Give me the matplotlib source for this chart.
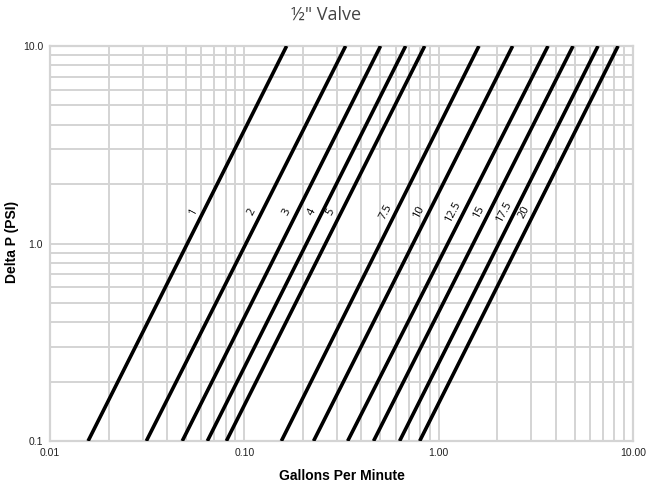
import numpy as np
import matplotlib.pyplot as plt
from matplotlib.ticker import FixedLocator, FixedFormatter, LogLocator, NullFormatter
import matplotlib.transforms as mtransforms

# Line labels and flow (GPM) read at both ends of each line
labels = ["1", "2", "3", "4", "5", "7.5", "10", "12.5", "15", "17.5", "20"]
gpm_at_low = [0.0157, 0.0313, 0.0479, 0.0645, 0.0808, 0.155, 0.227, 0.340, 0.462, 0.629, 0.798]
gpm_at_high = [0.165, 0.332, 0.502, 0.676, 0.847, 1.61, 2.40, 3.65, 4.91, 6.60, 8.37]
dp_low = 0.1
dp_high = 10.0

x_ticks = [0.01, 0.1, 1.0, 10.0]
x_tick_labels = ["0.01", "0.10", "1.00", "10.00"]
y_ticks = [0.1, 1.0, 10.0]
y_tick_labels = ["0.1", "1.0", "10.0"]

label_dp = 1.40  # height where line labels sit

fig = plt.figure(figsize=(6.52, 4.84), dpi=100)
ax = fig.add_axes([0.0767, 0.0888, 0.8943, 0.8162])

grid_color = "#d4d4d4"
ax.set_xscale("log")
ax.set_yscale("log")
ax.set_xlim(0.01, 10)
ax.set_ylim(0.1, 10)

for lo, hi, lab in zip(gpm_at_low, gpm_at_high, labels):
    ax.plot([lo, hi], [dp_low, dp_high], color="black", lw=2.6, solid_capstyle="butt", zorder=3)
    # put the label just left of the line at label_dp
    t = (np.log10(label_dp) - np.log10(dp_low)) / (np.log10(dp_high) - np.log10(dp_low))
    xl = 10 ** (np.log10(lo) + t * (np.log10(hi) - np.log10(lo)))
    offset = mtransforms.offset_copy(ax.transData, fig=fig, x=-6.5, y=2, units="points")
    ax.text(xl, label_dp, lab, rotation=62, ha="center", va="center",
            fontsize=8, color="black", family="Open Sans", transform=offset, zorder=4)

ax.xaxis.set_major_locator(FixedLocator(x_ticks))
ax.xaxis.set_major_formatter(FixedFormatter(x_tick_labels))
ax.yaxis.set_major_locator(FixedLocator(y_ticks))
ax.yaxis.set_major_formatter(FixedFormatter(y_tick_labels))
ax.xaxis.set_minor_locator(LogLocator(base=10, subs=np.arange(2, 10)))
ax.yaxis.set_minor_locator(LogLocator(base=10, subs=np.arange(2, 10)))
ax.xaxis.set_minor_formatter(NullFormatter())
ax.yaxis.set_minor_formatter(NullFormatter())

ax.grid(True, which="both", color=grid_color, lw=1.4, zorder=0)
ax.set_axisbelow(True)
ax.tick_params(which="both", length=0, labelsize=7.5, colors="#222222", pad=5)
for t in ax.get_xticklabels() + ax.get_yticklabels():
    t.set_family("Liberation Sans")
for s in ax.spines.values():
    s.set_color(grid_color)
    s.set_linewidth(1.6)

ax.set_xlabel("Gallons Per Minute", fontsize=10, fontweight="bold", family="Liberation Sans")
ax.xaxis.set_label_coords(0.5, -0.072)
fig.text(0.019, 0.5, "Delta P (PSI)", rotation=90, ha="center", va="center",
         fontsize=10, fontweight="bold", family="Liberation Sans")
fig.text(0.5, 0.97, "\u00bd\" Valve", ha="center", va="center", fontsize=13,
         color="#444444", family="Open Sans")

fig.savefig("out.png", dpi=100)
